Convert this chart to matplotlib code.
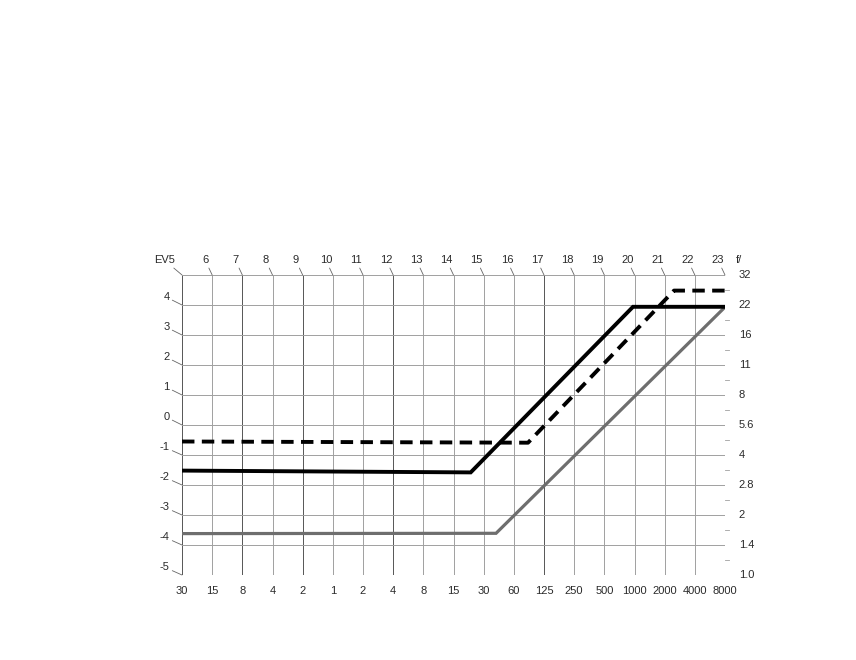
import matplotlib
matplotlib.use("Agg")
import matplotlib.pyplot as plt

plt.rcParams['font.family'] = ['Liberation Sans', 'DejaVu Sans']

# ---- data ----
shutter_labels = ['30', '15', '8', '4', '2', '1', '2', '4', '8', '15', '30', '60',
                  '125', '250', '500', '1000', '2000', '4000', '8000']
fnum_labels = ['1.0', '1.4', '2', '2.8', '4', '5.6', '8', '11', '16', '22', '32']
ev_labels = ['EV5', '6', '7', '8', '9', '10', '11', '12', '13', '14', '15', '16',
             '17', '18', '19', '20', '21', '22', '23']
left_labels = ['-5', '-4', '-3', '-2', '-1', '0', '1', '2', '3', '4']

# program lines: x = shutter stop index, y = aperture stop index
solid_x = [0, 9.57, 14.95, 18]
solid_y = [3.48, 3.42, 8.94, 8.94]
dashed_x = [0, 11.47, 16.31, 18]
dashed_y = [4.45, 4.41, 9.48, 9.48]
gray_x = [0, 10.41, 18]
gray_y = [1.38, 1.39, 8.93]

# ---- figure ----
fig = plt.figure(figsize=(8.56, 6.6), dpi=100)
ax = fig.add_axes([182 / 856, 1 - 575 / 660, (725 - 182) / 856, 300 / 660])
nx = len(shutter_labels)
ny = len(fnum_labels)
ax.set_xlim(0, nx - 1)
ax.set_ylim(0, ny - 1)
for s in ax.spines.values():
    s.set_visible(False)
ax.set_xticks([])
ax.set_yticks([])

gc = '#a0a0a0'
dark = {2, 4, 7, 12}
for i in range(nx):
    ax.plot([i, i], [0, ny - 1], color=('#555555' if i in dark or i == 0 else gc),
            lw=0.7, zorder=1)
for j in range(ny):
    ax.plot([0, nx - 1], [j, j], color=gc, lw=0.7, zorder=1)

# small ticks on right edge
for j in range(ny - 1):
    ax.plot([nx - 1, nx - 1 + 0.12], [j + 0.5, j + 0.5], color=gc, lw=0.6,
            clip_on=False)

ax.plot(gray_x, gray_y, color='#6e6e6e', lw=2.3, solid_capstyle='butt',
        solid_joinstyle='miter', zorder=3)
ax.plot(solid_x, solid_y, color='black', lw=2.8, solid_capstyle='butt',
        solid_joinstyle='miter', zorder=4)
ax.plot(dashed_x, dashed_y, color='black', lw=2.8, dashes=(3.2, 1.9),
        dash_capstyle='butt', zorder=4)

tc = '#2a2a2a'
fs = 8
lead = dict(arrowstyle='-', color='#666666', lw=0.6, shrinkA=0, shrinkB=0)

# top EV labels with leaders
for i, lab in enumerate(ev_labels):
    ax.annotate(lab, xy=(i, ny - 1), xycoords='data',
                xytext=(-5, 7), textcoords='offset points',
                ha='right' if i == 0 else 'center', va='bottom',
                fontsize=fs, color=tc, arrowprops=lead)

# left labels with leaders
for j, lab in enumerate(left_labels):
    ax.annotate(lab, xy=(0, j), xycoords='data',
                xytext=(-9, 2), textcoords='offset points',
                ha='right', va='bottom', fontsize=fs, color=tc,
                arrowprops=lead)

# right f-number labels
for j, lab in enumerate(fnum_labels):
    ax.annotate(lab, xy=(nx - 1, j), xycoords='data',
                xytext=(10, 0), textcoords='offset points',
                ha='left', va='center', fontsize=fs, color=tc)
ax.annotate('f/', xy=(nx - 1, ny - 1), xycoords='data',
            xytext=(8, 7), textcoords='offset points',
            ha='left', va='bottom', fontsize=fs, color=tc)

# bottom shutter labels
for i, lab in enumerate(shutter_labels):
    ax.annotate(lab, xy=(i, 0), xycoords='data',
                xytext=(0, -8), textcoords='offset points',
                ha='center', va='top', fontsize=fs, color=tc)

fig.savefig('out.png', dpi=100)
